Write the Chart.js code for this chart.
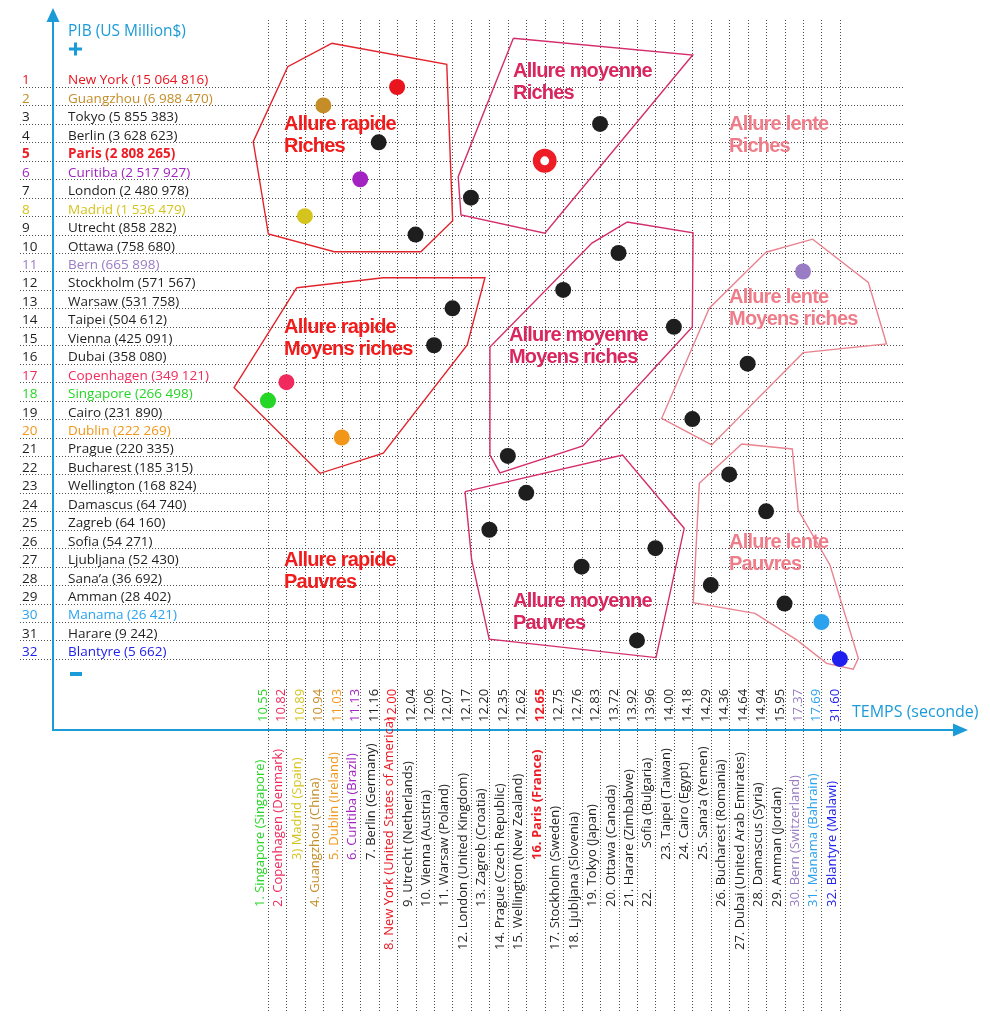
<!DOCTYPE html>
<html>
<head>
<meta charset="utf-8">
<script src="https://cdn.jsdelivr.net/npm/chart.js@4.4.0/dist/chart.umd.min.js"></script>
<style>
  body { margin: 0; background: #fff; }
</style>
</head>
<body>
<canvas id="myChart" width="990" height="1024"></canvas>
<script>
// x axis: cities ordered by time (seconde)
const timeCities = ['Singapore', 'Copenhagen', 'Madrid', 'Guangzhou', 'Dublin', 'Curitiba', 'Berlin', 'New York',
  'Utrecht', 'Vienna', 'Warsaw', 'London', 'Zagreb', 'Prague', 'Wellington', 'Paris', 'Stockholm', 'Ljubljana',
  'Tokyo', 'Ottawa', 'Harare', 'Sofia', 'Taipei', 'Cairo', 'Sana’a', 'Bucharest', 'Dubai', 'Damascus', 'Amman',
  'Bern', 'Manama', 'Blantyre'];
const times = ['10.55', '10.82', '10.89', '10.94', '11.03', '11.13', '11.16', '12.00', '12.04', '12.06', '12.07',
  '12.17', '12.20', '12.35', '12.62', '12.65', '12.75', '12.76', '12.83', '13.72', '13.92', '13.96', '14.00',
  '14.18', '14.29', '14.36', '14.64', '14.94', '15.95', '17.37', '17.69', '31.60'];
const timeNames = ['1. Singapore (Singapore)', '2. Copenhagen (Denmark)', '3) Madrid (Spain)', '4. Guangzhou (China)',
  '5. Dublin (Ireland)', '6. Curitiba (Brazil)', '7. Berlin (Germany)', '8. New York (United States of America)',
  '9. Utrecht (Netherlands)', '10. Vienna (Austria)', '11. Warsaw (Poland)', '12. London (United Kingdom)',
  '13. Zagreb (Croatia)', '14. Prague (Czech Republic)', '15. Wellington (New Zealand)', '16. Paris (France)',
  '17. Stockholm (Sweden)', '18. Ljubljana (Slovenia)', '19. Tokyo (Japan)', '20. Ottawa (Canada)',
  '21. Harare (Zimbabwe)', '22.            Sofia (Bulgaria)', '23. Taipei (Taiwan)', '24. Cairo (Egypt)',
  '25. Sana’a (Yemen)', '26. Bucharest (Romania)', '27. Dubai (United Arab Emirates)', '28. Damascus (Syria)',
  '29. Amman (Jordan)', '30. Bern (Switzerland)', '31. Manama (Bahrain)', '32. Blantyre (Malawi)'];

// y axis: cities ordered by PIB (US Million$)
const gdpCities = ['New York', 'Guangzhou', 'Tokyo', 'Berlin', 'Paris', 'Curitiba', 'London', 'Madrid', 'Utrecht',
  'Ottawa', 'Bern', 'Stockholm', 'Warsaw', 'Taipei', 'Vienna', 'Dubai', 'Copenhagen', 'Singapore', 'Cairo',
  'Dublin', 'Prague', 'Bucharest', 'Wellington', 'Damascus', 'Zagreb', 'Sofia', 'Ljubljana', 'Sana’a', 'Amman',
  'Manama', 'Harare', 'Blantyre'];
const gdpValues = ['15 064 816', '6 988 470', '5 855 383', '3 628 623', '2 808 265', '2 517 927', '2 480 978',
  '1 536 479', '858 282', '758 680', '665 898', '571 567', '531 758', '504 612', '425 091', '358 080', '349 121',
  '266 498', '231 890', '222 269', '220 335', '185 315', '168 824', '64 740', '64 160', '54 271', '52 430',
  '36 692', '28 402', '26 421', '9 242', '5 662'];

// groups drawn around the points, vertices as [time column, PIB row]
const rapideRiches = [[4.45, -1.37], [10.69, -0.23], [11.01, 8.25], [9.29, 9.93], [4.59, 9.93], [1.02, 8.97], [0.20, 3.96], [2.07, -0.10]];
const moyenneRiches = [[14.30, -1.64], [24.02, -0.73], [16.01, 8.93], [11.46, 7.94], [11.31, 5.86]];
const rapideMoyens = [[2.56, 11.88], [7.25, 11.34], [12.76, 11.34], [11.80, 14.98], [7.25, 20.85], [3.82, 21.94], [-0.84, 17.30]];
const moyenneMoyens = [[20.46, 8.32], [24.04, 8.91], [24.00, 14.01], [18.07, 20.46], [13.57, 21.92], [13.03, 20.95], [13.03, 15.09], [18.56, 9.46]];
const lenteMoyens = [[27.99, 9.96], [30.52, 9.25], [33.54, 11.59], [34.53, 14.93], [30.01, 15.40], [25.05, 20.40], [22.34, 18.96], [24.92, 12.99]];
const moyennePauvres = [[11.68, 22.93], [20.22, 20.95], [23.56, 24.92], [22.03, 31.93], [12.99, 30.93], [12.04, 26.64]];
const lentePauvres = [[26.67, 20.35], [29.42, 20.62], [29.74, 23.93], [31.46, 26.91], [33.0, 31.97], [32.72, 32.56], [31.28, 32.24], [29.66, 30.97], [27.40, 29.53], [24.05, 28.95], [24.38, 22.48]];

const RED = '#e3232b', MAG = '#d42d6b', PINK = '#e9838f';
const BLUE = '#1b9bd7';

const cityColors = {
  'New York': '#e8141e', 'Guangzhou': '#c58d28', 'Paris': '#ee1c24', 'Curitiba': '#a222c2', 'Madrid': '#d6c41e',
  'Bern': '#9a7cc4', 'Copenhagen': '#f02a5c', 'Singapore': '#26d626', 'Dublin': '#f2961a', 'Manama': '#2aa2ee',
  'Blantyre': '#2020ee'
};
const colorOf = c => cityColors[c] || '#1e1e1e';

// bottom name labels sit on three levels in the original
const nameLevel = [1, 1, 0, 1, 0, 0, 0, 2, 1, 1, 1, 2, 1, 2, 2, 0, 2, 2, 1, 1, 1, 1, 0, 0, 0, 1, 2, 1, 1, 1, 1, 1];
const levelBottom = [860, 907, 950];

const groupLabels = [
  {text: ['Allure rapide', 'Riches'], at: [1.87, 3.33], color: '#f01c1c'},
  {text: ['Allure moyenne', 'Riches'], at: [14.28, 0.46], color: '#d9265f'},
  {text: ['Allure lente', 'Riches'], at: [25.99, 3.33], color: '#ee7d89'},
  {text: ['Allure rapide', 'Moyens riches'], at: [1.87, 14.33], color: '#f01c1c'},
  {text: ['Allure moyenne', 'Moyens riches'], at: [14.06, 14.77], color: '#d9265f'},
  {text: ['Allure lente', 'Moyens riches'], at: [25.99, 12.71], color: '#ee7d89'},
  {text: ['Allure rapide', 'Pauvres'], at: [1.87, 26.96], color: '#f01c1c'},
  {text: ['Allure moyenne', 'Pauvres'], at: [14.28, 29.18], color: '#d9265f'},
  {text: ['Allure lente', 'Pauvres'], at: [25.99, 25.99], color: '#ee7d89'}
];

const points = gdpCities.map((c, i) => ({x: timeCities.indexOf(c) + 1, y: i + 1}));
const poly = (vs, color) => ({
  type: 'line',
  data: vs.concat([vs[0]]).map(v => ({x: v[0], y: v[1]})),
  borderColor: color,
  borderWidth: 1.4,
  pointRadius: 0,
  fill: false,
  tension: 0,
  showLine: true
});

const backdrop = {
  id: 'backdrop',
  beforeDatasetsDraw(chart) {
    const ctx = chart.ctx;
    const xs = chart.scales.x, ys = chart.scales.y;
    const area = chart.chartArea;
    ctx.save();

    // dotted grid
    ctx.strokeStyle = '#4d4d4d';
    ctx.lineWidth = 1;
    ctx.setLineDash([1, 2]);
    for (let r = 1; r <= 32; r++) {
      const py = Math.round(ys.getPixelForValue(r)) + 0.5;
      ctx.beginPath(); ctx.moveTo(area.left, py); ctx.lineTo(area.right, py); ctx.stroke();
    }
    for (let c = 1; c <= 32; c++) {
      const px = Math.round(xs.getPixelForValue(c)) + 0.5;
      ctx.beginPath(); ctx.moveTo(px, 20); ctx.lineTo(px, area.bottom); ctx.stroke();
    }
    ctx.setLineDash([]);

    // axes
    ctx.strokeStyle = BLUE; ctx.fillStyle = BLUE; ctx.lineWidth = 2;
    ctx.beginPath(); ctx.moveTo(53, 20); ctx.lineTo(53, 730); ctx.lineTo(955, 730); ctx.stroke();
    ctx.beginPath(); ctx.moveTo(53, 8); ctx.lineTo(46.5, 22); ctx.lineTo(59.5, 22); ctx.closePath(); ctx.fill();
    ctx.beginPath(); ctx.moveTo(968, 730); ctx.lineTo(953, 723.5); ctx.lineTo(953, 736.5); ctx.closePath(); ctx.fill();
    ctx.font = '15.5px "Open Sans"';
    ctx.textBaseline = 'alphabetic';
    ctx.fillText('PIB (US Million$)', 68, 36);
    ctx.font = '16px "Open Sans"';
    ctx.fillText('TEMPS (seconde)', 852, 717);
    ctx.fillRect(69, 47.5, 13, 3);
    ctx.fillRect(74, 42.5, 3, 13);
    ctx.fillRect(70, 672, 12, 4);

    // left labels
    gdpCities.forEach((c, i) => {
      const py = ys.getPixelForValue(i + 1) - 2.5;
      ctx.fillStyle = colorOf(c);
      ctx.font = (c === 'Paris' ? 'bold ' : '') + '13.5px "Open Sans"';
      ctx.fillText(String(i + 1), 22, py);
      ctx.fillText(c + ' (' + gdpValues[i] + ')', 68, py);
    });

    // bottom labels
    timeCities.forEach((c, i) => {
      const px = xs.getPixelForValue(i + 1);
      ctx.fillStyle = colorOf(c);
      ctx.font = (c === 'Paris' ? 'bold ' : '') + '13px "Open Sans"';
      ctx.save();
      ctx.translate(px - 1, 722);
      ctx.rotate(-Math.PI / 2);
      ctx.fillText(times[i], 0, 0);
      ctx.restore();
      ctx.save();
      ctx.translate(px - 4, levelBottom[nameLevel[i]]);
      ctx.rotate(-Math.PI / 2);
      ctx.fillText(timeNames[i], 0, 0);
      ctx.restore();
    });

    // group titles
    ctx.font = 'bold 20px "Liberation Sans"';
    ctx.letterSpacing = '-0.8px';
    groupLabels.forEach(g => {
      const px = xs.getPixelForValue(g.at[0]);
      const py = ys.getPixelForValue(g.at[1]);
      ctx.fillStyle = g.color;
      g.text.forEach((t, k) => ctx.fillText(t, px, py + k * 22));
    });
    ctx.letterSpacing = '0px';
    ctx.restore();
  }
};

const ctx = document.getElementById('myChart').getContext('2d');
const myChart = new Chart(ctx, {
  type: 'scatter',
  data: {
    datasets: [
      {
        data: points,
        pointBackgroundColor: gdpCities.map(c => c === 'Paris' ? '#ffffff' : colorOf(c)),
        pointBorderColor: gdpCities.map(c => c === 'Paris' ? '#ee1c24' : colorOf(c)),
        pointBorderWidth: gdpCities.map(c => c === 'Paris' ? 7.5 : 0),
        pointRadius: gdpCities.map(c => c === 'Paris' ? 8.2 : 8),
        showLine: false
      },
      poly(rapideRiches, RED),
      poly(moyenneRiches, MAG),
      poly(rapideMoyens, RED),
      poly(moyenneMoyens, MAG),
      poly(lenteMoyens, PINK),
      poly(moyennePauvres, MAG),
      poly(lentePauvres, PINK)
    ]
  },
  options: {
    responsive: false,
    animation: false,
    events: [],
    layout: {autoPadding: false, padding: {left: 20, top: 10, right: 87, bottom: 12}},
    plugins: {legend: {display: false}, tooltip: {enabled: false}},
    scales: {
      x: {type: 'linear', min: -12.442, max: 35.42, display: false},
      y: {type: 'linear', min: -3.173, max: 51.14, reverse: true, display: false}
    }
  },
  plugins: [backdrop]
});
</script>
</body>
</html>
